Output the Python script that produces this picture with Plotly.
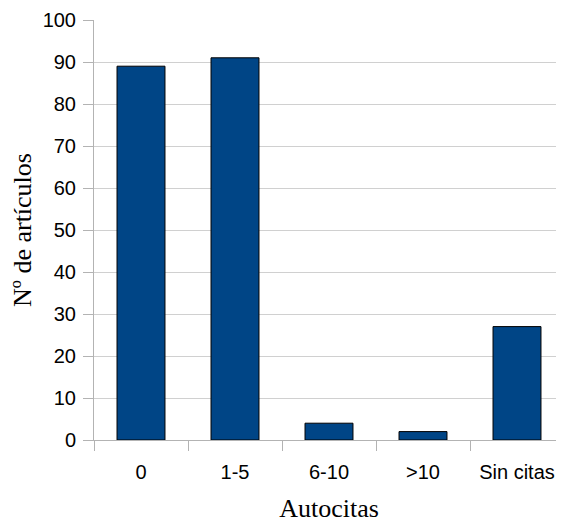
import plotly.graph_objects as go

categories = ["0", "1-5", "6-10", ">10", "Sin citas"]
values = [89, 91, 4, 2, 27]
y_ticks = [0, 10, 20, 30, 40, 50, 60, 70, 80, 90, 100]

serif = "Liberation Serif, Times New Roman, serif"

fig = go.Figure()
fig.add_trace(go.Bar(
    x=categories, y=values, width=0.51,
    marker=dict(color="#004586", line=dict(color="#000000", width=1)),
))
# page body has an 8px default margin, so the figure is sized/offset to compensate
fig.update_layout(
    width=556, height=515,
    margin=dict(l=86, r=0, t=12, b=83),
    plot_bgcolor="white", paper_bgcolor="white",
    showlegend=False,
    font=dict(family="Liberation Sans, Arial, sans-serif", size=20, color="black"),
)
fig.update_xaxes(
    type="category", showgrid=False, ticks="outside", tickson="boundaries",
    ticklen=10, tickcolor="#b3b3b3", showline=True, linecolor="#b3b3b3",
    automargin=False, ticklabelstandoff=14,
    title=dict(text="Autocitas", font=dict(family=serif, size=26), standoff=17),
)
fig.update_yaxes(
    range=[0, 100], tickvals=y_ticks, showgrid=True, gridcolor="#d0d0d0",
    ticks="outside", ticklen=10, tickcolor="#b3b3b3", showline=True, linecolor="#b3b3b3",
    zeroline=False, automargin=False, ticklabelstandoff=3,
    title=dict(text="Nº de artículos", font=dict(family=serif, size=26), standoff=7),
)
fig.write_html("out.html")
